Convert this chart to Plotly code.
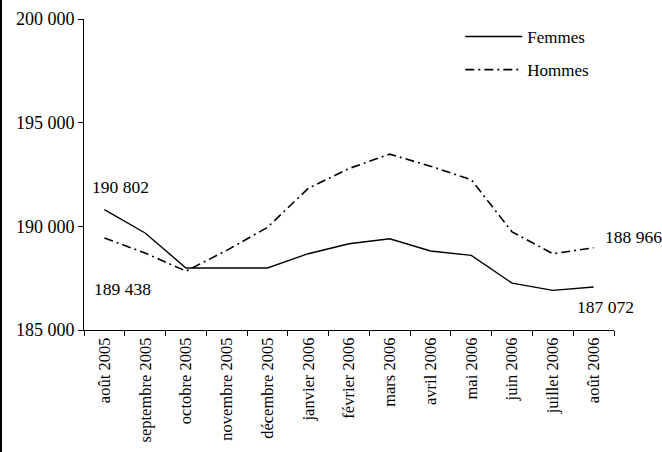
import plotly.graph_objects as go

months = ["août 2005", "septembre 2005", "octobre 2005", "novembre 2005", "décembre 2005",
          "janvier 2006", "février 2006", "mars 2006", "avril 2006", "mai 2006",
          "juin 2006", "juillet 2006", "août 2006"]
femmes = [190802, 189680, 187990, 187990, 187990, 188680, 189160, 189400, 188810, 188600,
          187260, 186910, 187072]
hommes = [189438, 188710, 187840, 188840, 189950, 191830, 192790, 193480, 192900, 192250,
          189730, 188680, 188966]
y_ticks = [185000, 190000, 195000, 200000]

FONT = "Liberation Serif"

fig = go.Figure()
fig.add_trace(go.Scatter(x=months, y=femmes, name="Femmes", mode="lines", legendgroup="f",
                         line=dict(color="black", width=1.4)))
fig.add_trace(go.Scatter(x=months, y=hommes, name="Hommes", mode="lines", legendgroup="h",
                         line=dict(color="black", width=1.6, dash="9px,4px,2px,4px")))

def fmt(v):
    return f"{v:,}".replace(",", " ")

ann = [
    dict(x=months[0], y=femmes[0], xanchor="left", xshift=-14, yshift=23),
    dict(x=months[0], y=hommes[0], xanchor="left", xshift=-12, yshift=-51),
    dict(x=months[-1], y=hommes[-1], xanchor="left", xshift=9, yshift=11),
    dict(x=months[-1], y=femmes[-1], xanchor="center", xshift=12, yshift=-20),
]
vals = [femmes[0], hommes[0], hommes[-1], femmes[-1]]
for a, v in zip(ann, vals):
    fig.add_annotation(text=fmt(v), showarrow=False, yanchor="middle",
                       font=dict(family=FONT, size=17.5, color="black"), **a)

fig.add_shape(type="line", xref="paper", yref="paper",
              x0=(1 - 84) / 530, x1=(1 - 84) / 530, y0=-122 / 311, y1=1 + 19 / 311,
              line=dict(color="black", width=2))

fig.update_layout(
    width=662, height=452, autosize=False,
    margin=dict(l=84, r=48, t=19, b=122),
    paper_bgcolor="white", plot_bgcolor="white",
    separators=", ",
    font=dict(family=FONT, size=17, color="black"),
    showlegend=True,
    legend=dict(x=0.71, y=1.0, xanchor="left", yanchor="top",
                traceorder="grouped",
                bgcolor="rgba(0,0,0,0)", font=dict(family=FONT, size=17),
                tracegroupgap=8, itemwidth=57),
)
fig.update_xaxes(type="category", range=[-0.5, len(months) - 0.5], automargin=False,
                 showline=True, linecolor="black", linewidth=1,
                 ticks="outside", ticklen=5, tickcolor="black", tickson="boundaries",
                 tickangle=-90, showgrid=False, zeroline=False,
                 tickfont=dict(family=FONT, size=16.5, color="black"))
fig.update_yaxes(range=[185000, 200000], tickvals=y_ticks, tickformat=",d", automargin=False,
                 showline=True, linecolor="black", linewidth=1,
                 ticks="outside", ticklen=5, tickcolor="black",
                 showgrid=False, zeroline=False,
                 tickfont=dict(family=FONT, size=18, color="black"))

fig.write_html("out.html", config={"displayModeBar": False, "responsive": False},
               post_script="document.body.style.margin='0';document.body.style.overflow='hidden';")
